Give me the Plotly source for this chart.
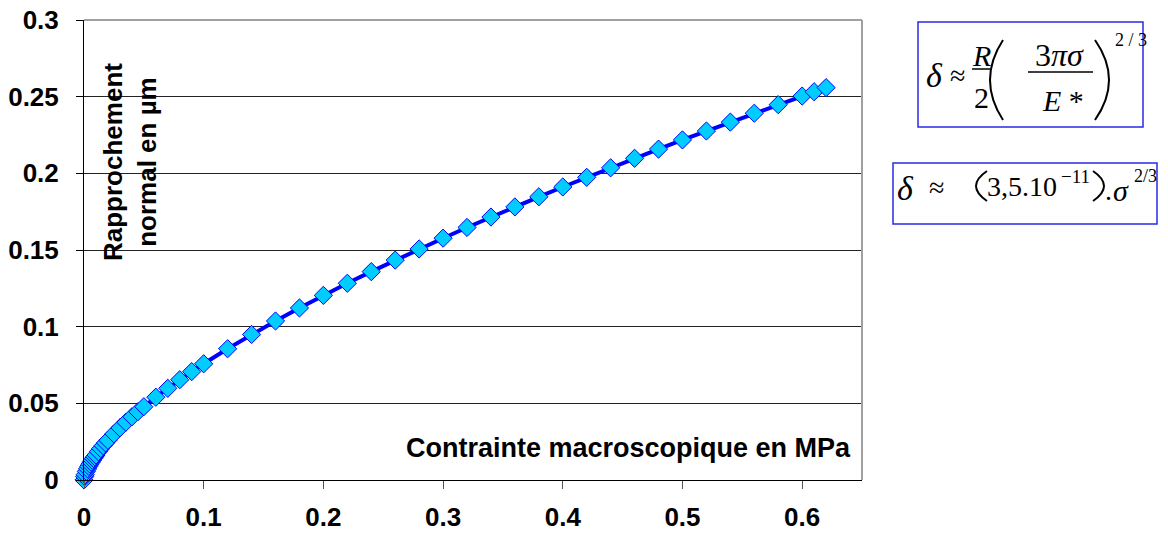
import plotly.graph_objects as go

# Data (stress in MPa, normal approach in µm)
sigma = [0, 0.0005, 0.001, 0.002, 0.003, 0.004, 0.005, 0.006, 0.007, 0.008, 0.009,
         0.01, 0.012, 0.014, 0.016, 0.018, 0.02, 0.025, 0.03, 0.035, 0.04, 0.045,
         0.05, 0.06, 0.07, 0.08, 0.09, 0.1, 0.12, 0.14, 0.16, 0.18, 0.2, 0.22,
         0.24, 0.26, 0.28, 0.3, 0.32, 0.34, 0.36, 0.38, 0.4, 0.42, 0.44, 0.46,
         0.48, 0.5, 0.52, 0.54, 0.56, 0.58, 0.6, 0.61, 0.62]
delta = [0, 0.0022, 0.0035, 0.0056, 0.0073, 0.0089, 0.0103, 0.0116, 0.0129, 0.0141, 0.0152,
         0.0163, 0.0185, 0.0205, 0.0224, 0.0242, 0.0259, 0.0301, 0.0340, 0.0377, 0.0412, 0.0445,
         0.0478, 0.0540, 0.0598, 0.0654, 0.0707, 0.0758, 0.0856, 0.0949, 0.1037, 0.1122, 0.1204, 0.1283,
         0.1359, 0.1434, 0.1507, 0.1577, 0.1647, 0.1715, 0.1781, 0.1847, 0.1911, 0.1974, 0.2036, 0.2098,
         0.2158, 0.2218, 0.2276, 0.2334, 0.2392, 0.2448, 0.2504, 0.2532, 0.2559]

x_ticks = [0, 0.1, 0.2, 0.3, 0.4, 0.5, 0.6]
y_ticks = [0, 0.05, 0.1, 0.15, 0.2, 0.25, 0.3]
y_title = "Rapprochement<br>normal en µm"
x_title = "Contrainte macroscopique en MPa"

W, H = 1168, 534
L, R_, T, B = 84, 862, 20, 480  # plot area in screen pixels


def X(p):
    return (p - L) / (R_ - L)


def Y(p):
    return (B - p) / (B - T)


SANS = "Liberation Sans, Arial, sans-serif"
SERIF = "Liberation Serif, Times New Roman, serif"

fig = go.Figure()
fig.add_trace(go.Scatter(
    x=sigma, y=delta, mode="lines+markers",
    line=dict(color="#0000FF", width=4),
    marker=dict(symbol="diamond", size=14, color="#00CCFF",
                line=dict(color="#0000FF", width=1)),
    cliponaxis=False, showlegend=False,
))

fig.update_layout(
    width=W, height=H,
    margin=dict(l=L, r=W - R_, t=T, b=H - B, autoexpand=False),
    paper_bgcolor="white", plot_bgcolor="white",
    xaxis=dict(range=[0, 0.65], tickvals=x_ticks, ticks="outside", ticklen=8,
               tickcolor="#555", showline=True, linecolor="black", linewidth=1,
               showgrid=False, zeroline=False, automargin=False,
               ticklabelstandoff=6, ticklabeloverflow="allow",
               tickfont=dict(family=SANS, size=26, color="black", weight="bold")),
    yaxis=dict(range=[0, 0.3], tickvals=y_ticks, ticks="outside", ticklen=7,
               tickcolor="black", showline=True, linecolor="black", linewidth=1,
               showgrid=True, gridcolor="#222", gridwidth=1, zeroline=False,
               ticklabelstandoff=12, automargin=False, ticklabeloverflow="allow",
               tickfont=dict(family=SANS, size=26, color="black", weight="bold")),
)

shapes = []
# plot-area border (top and right) in gray
shapes.append(dict(type="line", xref="paper", yref="paper", x0=0, x1=1, y0=1, y1=1,
                   line=dict(color="#A0A0A0", width=2), layer="above"))
shapes.append(dict(type="line", xref="paper", yref="paper", x0=1, x1=1, y0=0, y1=1,
                   line=dict(color="#A0A0A0", width=2), layer="above"))

annotations = []
annotations.append(dict(xref="paper", yref="paper", x=X(130), y=Y(162), text=y_title,
                        textangle=-90, showarrow=False, xanchor="center", yanchor="middle",
                        font=dict(family=SANS, size=26, color="black", weight="bold")))
annotations.append(dict(xref="paper", yref="paper", x=X(853), y=Y(448), text=x_title,
                        showarrow=False, xanchor="right", yanchor="middle",
                        font=dict(family=SANS, size=27, color="black", weight="bold")))


def txt(s, cx, cy, size, italic=False):
    if italic:
        s = "<i>" + s + "</i>"
    annotations.append(dict(xref="paper", yref="paper", x=X(cx), y=Y(cy), text=s,
                            showarrow=False, xanchor="center", yanchor="middle",
                            font=dict(family=SERIF, size=size, color="black")))


def hline(x0, x1, y, w=1.5, color="black"):
    shapes.append(dict(type="line", xref="paper", yref="paper", x0=X(x0), x1=X(x1),
                       y0=Y(y), y1=Y(y), line=dict(color=color, width=w)))


def paren(xe, xm, y0, y1, w=2):
    ym = (y0 + y1) / 2
    path = "M {:.5f},{:.5f} Q {:.5f},{:.5f} {:.5f},{:.5f}".format(
        X(xe), Y(y0), X(2 * xm - xe), Y(ym), X(xe), Y(y1))
    shapes.append(dict(type="path", xref="paper", yref="paper", path=path,
                       line=dict(color="black", width=w)))


def box(x0, y0, x1, y1):
    shapes.append(dict(type="rect", xref="paper", yref="paper", x0=X(x0), x1=X(x1),
                       y0=Y(y1), y1=Y(y0), line=dict(color="#2A2AE8", width=1.5),
                       fillcolor="white", layer="below"))


# Equation 1 box
box(918, 22, 1143, 127)
txt("δ", 934, 76, 34, italic=True)
txt("≈", 957, 76, 28)
txt("R", 981, 55, 30, italic=True)
hline(972, 990, 69)
txt("2", 981, 97, 30)
paren(1003, 990, 40, 120)
txt("3<i>πσ</i>", 1059, 55, 32)
hline(1028, 1093, 72)
txt("<i>E</i> *", 1063, 100, 30)
paren(1095, 1109, 40, 120)
txt("2 / 3", 1131, 40, 18)

# Equation 2 box
box(893, 163, 1157, 224)
txt("δ", 905, 188, 34, italic=True)
txt("≈", 937, 187, 28)
paren(987, 976, 171, 201)
txt("3,5.10", 1022, 186, 28)
txt("−11", 1075, 176, 19)
paren(1093, 1104, 171, 201)
txt(".", 1108, 190, 28)
txt("σ", 1121, 190, 30, italic=True)
txt("2/3", 1145, 176, 18)

fig.update_layout(shapes=shapes, annotations=annotations)

fig.write_html("out.html", config={"displayModeBar": False},
               post_script="document.body.style.margin='0';")
